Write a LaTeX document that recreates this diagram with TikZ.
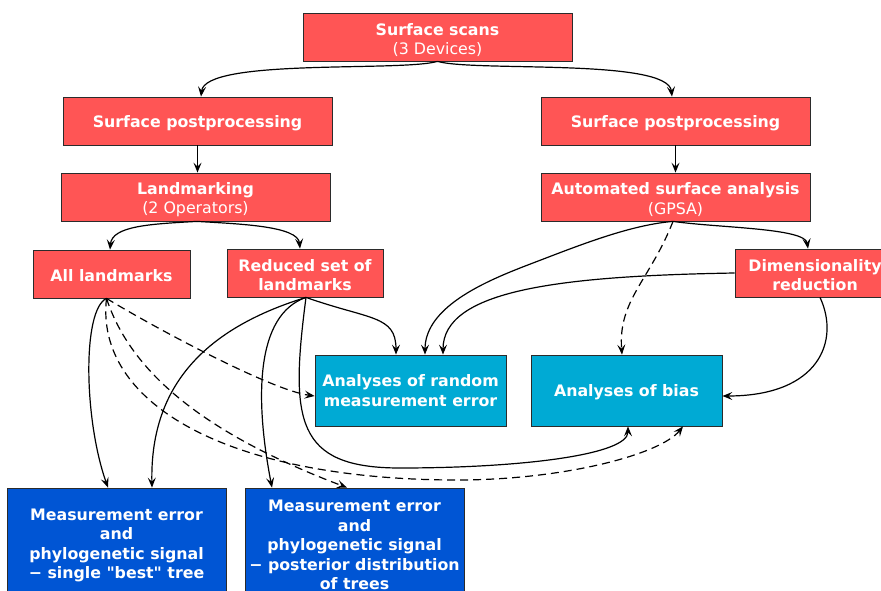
\documentclass[tikz,border=0pt]{standalone}
\usepackage{fontspec}
\setmainfont{DejaVu Sans}[Ligatures=TeXOff]
\usetikzlibrary{arrows.meta}
\definecolor{boxred}{HTML}{FF5555}
\definecolor{boxcyan}{HTML}{00AAD4}
\definecolor{boxblue}{HTML}{0055D4}
\definecolor{edgegray}{HTML}{2B2B2B}
\newcommand\topstrut[1]{\rule{0pt}{#1}}
\begin{document}
\begin{tikzpicture}[x=1pt,y=-1pt,
  box/.style={draw=edgegray, line width=0.8pt, text=white, align=center, inner sep=0pt,
    font=\bfseries\fontsize{15.8}{19.5}\selectfont},
  redbox/.style={box, fill=boxred, minimum height=48pt},
  cyanbox/.style={box, fill=boxcyan, minimum height=71pt, minimum width=191pt},
  bluebox/.style={box, fill=boxblue, minimum height=110pt, minimum width=219pt},
  arr/.style={-{Stealth[length=10pt,width=8pt,inset=4pt]}, line width=1.2pt, black},
  dsh/.style={arr, dash pattern=on 8pt off 5pt}]
\useasboundingbox (0,0) rectangle (881,591);
\clip (0,0) rectangle (881,591);
% nodes
\node[redbox, minimum width=269pt] (scans) at (437.5,37) {\topstrut{18pt}Surface scans\\{\mdseries (3 Devices)}};
\node[redbox, minimum width=269pt] (spl) at (197.5,121) {\topstrut{16pt}Surface postprocessing};
\node[redbox, minimum width=269pt] (spr) at (675.5,121) {\topstrut{16pt}Surface postprocessing};
\node[redbox, minimum width=269pt] (lm) at (195.5,197) {\topstrut{17pt}Landmarking\\{\mdseries (2 Operators)}};
\node[redbox, minimum width=269pt] (gpsa) at (675.5,197) {\topstrut{17pt}Automated surface analysis\\{\mdseries (GPSA)}};
\node[redbox, minimum width=157pt] (all) at (111.5,274) {\topstrut{16pt}All landmarks};
\node[redbox, minimum width=156pt] (red) at (305,273) {\topstrut{16pt}Reduced set of\\landmarks};
\node[redbox, minimum width=160pt] (dim) at (815,273) {\topstrut{16pt}Dimensionality\\reduction};
\node[cyanbox] (rand) at (410.5,390.5) {Analyses of random\\measurement error};
\node[cyanbox] (bias) at (626.5,390.5) {\topstrut{16pt}Analyses of bias};
\node[bluebox] (best) at (116.5,543) {\topstrut{16pt}Measurement error\\and\\phylogenetic signal\\− single "best" tree};
\node[bluebox] (post) at (354.5,543) {\topstrut{16pt}Measurement error\\and\\phylogenetic signal\\− posterior distribution\\of trees};
% connectors
\draw[arr] (scans.south) .. controls (400,72) and (205,58) .. ([xshift=3.5pt]spl.north);
\draw[arr] (scans.south) .. controls (475,72) and (668,58) .. ([xshift=-3.5pt]spr.north);
\draw[arr] (spl.south) -- (spl.south |- lm.north);
\draw[arr] (spr.south) -- (spr.south |- gpsa.north);
\draw[arr] ([xshift=1.5pt]lm.south) .. controls (150,224) and (112,226) .. ([xshift=-1.5pt]all.north);
\draw[arr] ([xshift=1.5pt]lm.south) .. controls (240,224) and (298,226) .. ([xshift=-5pt]red.north);
\draw[arr] ([xshift=-2.5pt]gpsa.south) .. controls (720,228) and (805,228) .. ([xshift=-7pt]dim.north);
\draw[arr] ([xshift=-2.5pt]gpsa.south) .. controls (630,225) and (580,245) .. (533,263)
  .. controls (491,279) and (425,305) .. ([xshift=14.5pt]rand.north);
\draw[dsh] ([xshift=-2.5pt]gpsa.south) .. controls (650,280) and (618,300) .. ([xshift=-4.5pt]bias.north);
\draw[arr] (dim.west) .. controls (560,276) and (443,290) .. ([xshift=32.5pt]rand.north);
\draw[arr] ([xshift=5pt]dim.south) .. controls (840,340) and (820,396) .. ([yshift=-5.5pt]bias.east);
\draw[arr] ([xshift=-5pt]all.south) .. controls (82,310) and (84,420) .. ([xshift=-8.5pt]best.north);
\draw[dsh] ([xshift=-5pt]all.south) .. controls (150,325) and (270,390) .. ([yshift=-5.5pt]rand.west);
\draw[dsh] ([xshift=-5pt]all.south) .. controls (130,370) and (200,432) .. ([xshift=-7.5pt]post.north);
\draw[dsh] ([xshift=-5pt]all.south) .. controls (95,400) and (220,478) .. (450,480)
  .. controls (560,481) and (660,455) .. ([xshift=56.5pt]bias.south);
\draw[arr] ([xshift=1pt]red.south) .. controls (370,320) and (396,315) .. ([xshift=-14.5pt]rand.north);
\draw[arr] ([xshift=1pt]red.south) .. controls (200,330) and (150,390) .. ([xshift=35.5pt]best.north);
\draw[arr] ([xshift=1pt]red.south) .. controls (255,315) and (255,400) .. ([xshift=-82.5pt]post.north);
\draw[arr] ([xshift=1pt]red.south) .. controls (290,420) and (295,468) .. (400,468)
  .. controls (520,468) and (628,455) .. ([xshift=1.5pt]bias.south);
\end{tikzpicture}
\end{document}
